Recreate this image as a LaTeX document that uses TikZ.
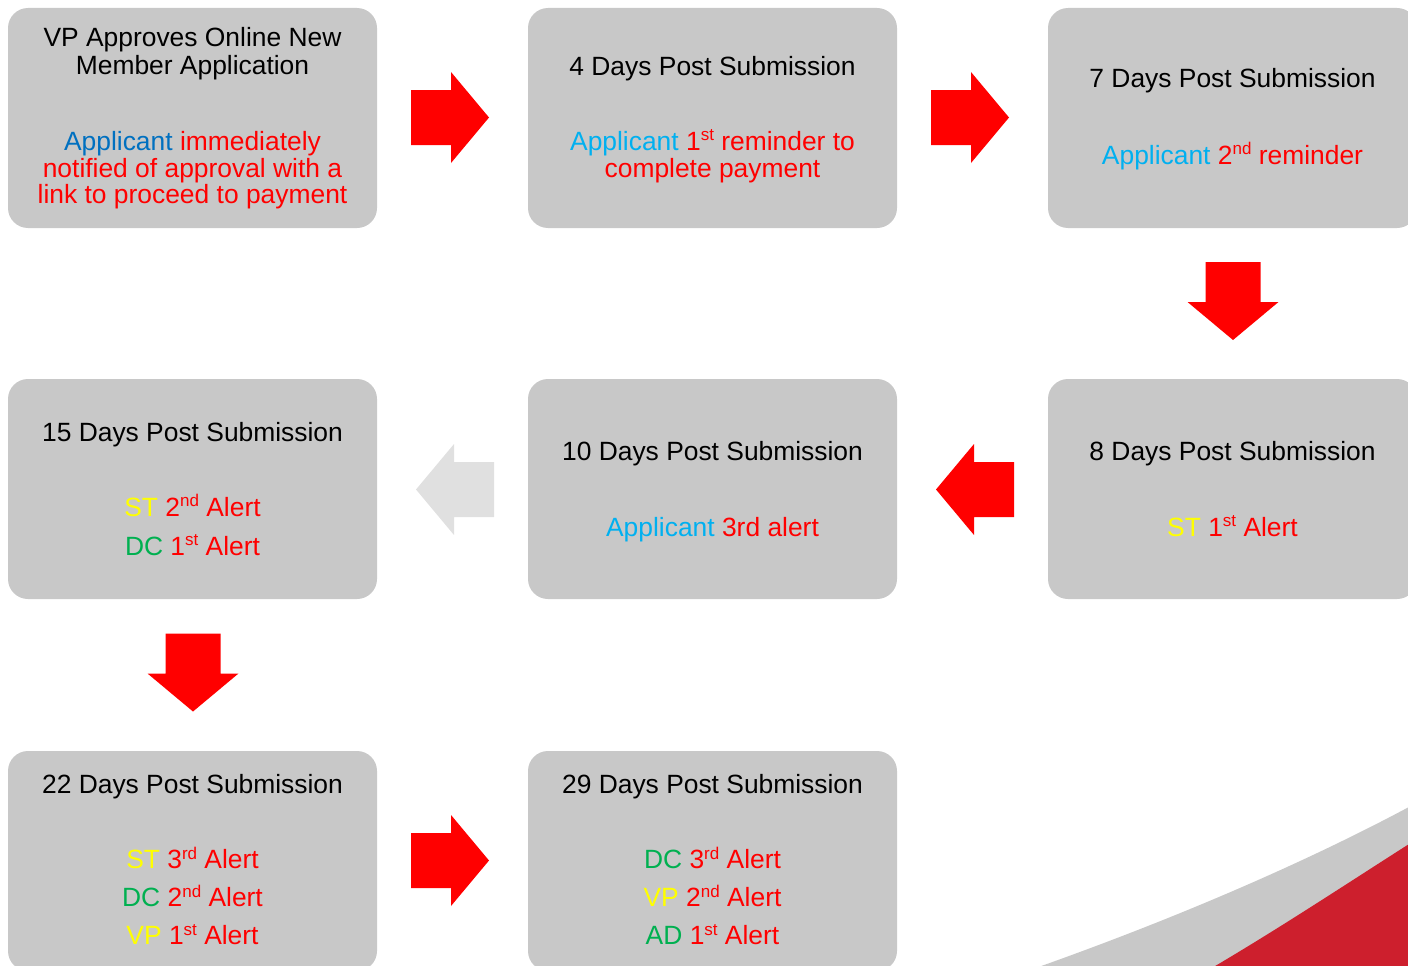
\documentclass[tikz,border=0pt]{standalone}
\usepackage{fontspec}
\setmainfont{Liberation Sans}
\usetikzlibrary{calc}

\definecolor{boxgray}{HTML}{C8C8C8}
\definecolor{ghostgray}{HTML}{E0E0E0}
\definecolor{arrowred}{HTML}{FF0000}
\definecolor{swoopred}{HTML}{CD1F2D}
\definecolor{txtred}{HTML}{FF0000}
\definecolor{txtcyan}{HTML}{00B0F0}
\definecolor{txtblue}{HTML}{0070C0}
\definecolor{txtyellow}{HTML}{FFFF00}
\definecolor{txtgreen}{HTML}{00B050}

% raised ordinal suffix (st, nd, rd)
\newcommand\ordsup[1]{\raisebox{0.36em}{\fontsize{17}{17}\selectfont #1}}
\newcommand\who[2]{\textcolor{#1}{#2}}

\tikzset{
  box/.style={fill=boxgray, rounded corners=20pt, minimum width=369pt,
              minimum height=220pt, inner sep=0pt},
  txt/.style={anchor=base, inner sep=0pt, text=black,
              font=\fontsize{26.4}{28}\selectfont},
  pics/blockarrow/.style={code={
    \path[pic actions] (-39,-27.5) -- (1,-27.5) -- (1,-45.5) -- (39,0)
      -- (1,45.5) -- (1,27.5) -- (-39,27.5) -- cycle;}}
}

\begin{document}
\begin{tikzpicture}[x=1pt,y=-1pt]
\path[use as bounding box, clip] (0,0) rectangle (1408,966);

% decorative swoop in the lower right corner
\fill[boxgray] (1030,970) .. controls (1200,910) and (1330,850) .. (1420,801)
  -- (1420,990) -- (1030,990) -- cycle;
\fill[swoopred] (1205,972) .. controls (1280,928) and (1340,888) .. (1420,837)
  -- (1420,990) -- (1205,990) -- cycle;

% stage boxes
\node[box] (d0)  at (192.5,118) {};
\node[box] (d4)  at (712.5,118) {};
\node[box] (d7)  at (1232.5,118) {};
\node[box] (d8)  at (1232.5,489) {};
\node[box] (d10) at (712.5,489) {};
\node[box] (d15) at (192.5,489) {};
\node[box] (d22) at (192.5,861) {};
\node[box] (d29) at (712.5,861) {};

% flow arrows
\pic[fill=arrowred] at (450,117.5) {blockarrow};
\pic[fill=arrowred] at (970,117.5) {blockarrow};
\pic[fill=arrowred, rotate=-90] at (1233,301) {blockarrow};
\pic[fill=arrowred, rotate=180] at (975,489.5) {blockarrow};
\pic[fill=ghostgray, rotate=180] at (455,489.5) {blockarrow};
\pic[fill=arrowred, rotate=-90] at (193,672.5) {blockarrow};
\pic[fill=arrowred] at (450,860.5) {blockarrow};

% stage 0
\node[txt] (d0a) at (192.5,46.7) {VP Approves Online New};
\node[txt] (d0b) at (192.5,74.5) {Member Application};
\node[txt] (d0c) at (192.5,150.7) {\who{txtblue}{Applicant} \who{txtred}{immediately}};
\node[txt] (d0d) at (192.5,177.2) {\who{txtred}{notified of approval with a}};
\node[txt] (d0e) at (192.5,203.5) {\who{txtred}{link to proceed to payment}};

% day 4
\node[txt] (d4a) at (712.5,75) {4 Days Post Submission};
\node[txt] (d4b) at (712.5,150) {\who{txtcyan}{Applicant} \who{txtred}{1\ordsup{st} reminder to}};
\node[txt] (d4c) at (712.5,177.5) {\who{txtred}{complete payment}};

% day 7
\node[txt] (d7a) at (1232.5,88) {7 Days Post Submission};
\node[txt] (d7b) at (1232.5,164) {\who{txtcyan}{Applicant} \who{txtred}{2\ordsup{nd} reminder}};

% day 8
\node[txt] (d8a) at (1232.5,460) {8 Days Post Submission};
\node[txt] (d8b) at (1232.5,536) {\who{txtyellow}{ST} \who{txtred}{1\ordsup{st} Alert}};

% day 10
\node[txt] (d10a) at (712.5,460) {10 Days Post Submission};
\node[txt] (d10b) at (712.5,536) {\who{txtcyan}{Applicant} \who{txtred}{3rd alert}};

% day 15
\node[txt] (d15a) at (192.5,441) {15 Days Post Submission};
\node[txt] (d15b) at (192.5,516) {\who{txtyellow}{ST} \who{txtred}{2\ordsup{nd} Alert}};
\node[txt] (d15c) at (192.5,555) {\who{txtgreen}{DC} \who{txtred}{1\ordsup{st} Alert}};

% day 22
\node[txt] (d22a) at (192.5,793) {22 Days Post Submission};
\node[txt] (d22b) at (192.5,868.5) {\who{txtyellow}{ST} \who{txtred}{3\ordsup{rd} Alert}};
\node[txt] (d22c) at (192.5,906.5) {\who{txtgreen}{DC} \who{txtred}{2\ordsup{nd} Alert}};
\node[txt] (d22d) at (192.5,944.5) {\who{txtyellow}{VP} \who{txtred}{1\ordsup{st} Alert}};

% day 29
\node[txt] (d29a) at (712.5,793) {29 Days Post Submission};
\node[txt] (d29b) at (712.5,868.5) {\who{txtgreen}{DC} \who{txtred}{3\ordsup{rd} Alert}};
\node[txt] (d29c) at (712.5,906.5) {\who{txtyellow}{VP} \who{txtred}{2\ordsup{nd} Alert}};
\node[txt] (d29d) at (712.5,944.5) {\who{txtgreen}{AD} \who{txtred}{1\ordsup{st} Alert}};
\end{tikzpicture}
\end{document}
